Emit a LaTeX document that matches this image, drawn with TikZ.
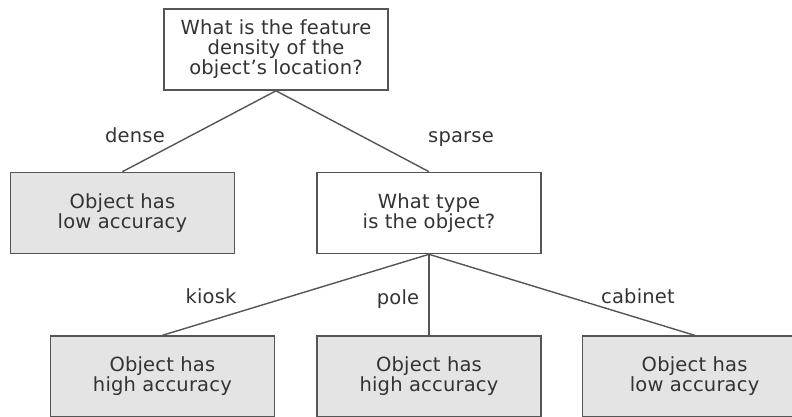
\documentclass[tikz,border=0pt]{standalone}
\usepackage{fontspec}
\setmainfont{DejaVu Sans}[LetterSpace=1]
\usepackage{tikz}
\usetikzlibrary{positioning}
\definecolor{boxgray}{HTML}{E4E4E4}
\definecolor{edgegray}{HTML}{555555}
\definecolor{textgray}{HTML}{333333}

\begin{document}
\begin{tikzpicture}[
  x=1pt, y=-1pt,
  node distance=81pt,
  question/.style={rectangle, draw=edgegray, line width=1.6pt, fill=white, minimum width=224pt, minimum height=81pt, inner sep=0pt, align=center, text=textgray, font=\fontsize{19.5}{20}\selectfont},
  leaf/.style={question, fill=boxgray},
  branch/.style={draw=edgegray, line width=1.4pt},
  lbl/.style={text=textgray, inner sep=0pt, anchor=base, font=\fontsize{19.5}{20}\selectfont}
]
  \useasboundingbox (0,0) rectangle (792,416);
  % questions
  \node[question] (density) at (276,49.5) {What is the feature\\density of the\\object's location?};
  \node[question] (objtype) at (429,213) {What type\\is the object?};
  % leaves
  \node[leaf, left=of objtype] (denseleaf) {Object has\\low accuracy};
  \node[leaf, below=of objtype] (poleleaf) {Object has\\high accuracy};
  \node[leaf, left=41pt of poleleaf] (kioskleaf) {Object has\\high accuracy};
  \node[leaf, right=40pt of poleleaf] (cabinetleaf) {Object has\\low accuracy};

  \draw[branch] (density.south) -- (denseleaf.north);
  \draw[branch] (density.south) -- (objtype.north);
  \draw[branch] (objtype.south) -- (kioskleaf.north);
  \draw[branch] (objtype.south) -- (poleleaf.north);
  \draw[branch] (objtype.south) -- (cabinetleaf.north);

  % branch labels
  \node[lbl] (dense) at (135,142) {dense};
  \node[lbl] (sparse) at (461,142) {sparse};
  \node[lbl] (kiosk) at (211,303) {kiosk};
  \node[lbl] (pole) at (398,304) {pole};
  \node[lbl] (cabinet) at (638,303) {cabinet};
\end{tikzpicture}
\end{document}
